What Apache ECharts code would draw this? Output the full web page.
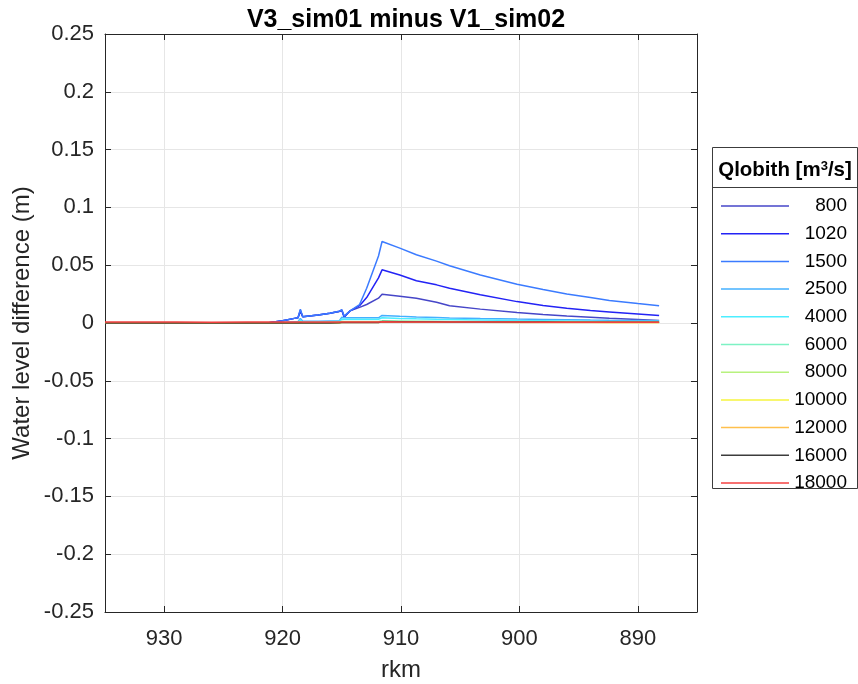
<!DOCTYPE html>
<html>
<head>
<meta charset="utf-8">
<script src="https://cdn.jsdelivr.net/npm/echarts@6/dist/echarts.min.js"></script>
<style>
    html, body { margin: 0; padding: 0; background: #fff; }
    #chart { width: 858px; height: 684px; }
</style>
</head>
<body>
<div id="chart"></div>
<script>
// river km positions (shared by every discharge)
const rkm = [935, 932, 929, 926, 923, 921.3, 920, 919, 918.7, 918.5, 918.3, 917, 916, 915.2, 915, 914.8, 914.3,
    913.5, 912.9, 911.9, 911.6, 910.1, 908.7, 907, 905.9, 903.3, 900.2, 898, 896, 894, 892.4, 890, 888.2];

const discharges = ['800', '1020', '1500', '2500', '4000', '6000', '8000', '10000', '12000', '16000', '18000'];
const colors = ['#4646c8', '#2323f5', '#3b7bff', '#45b0ff', '#4ceeff', '#7df2c4', '#b8f27e', '#f6f53e', '#ffc04d', '#3c3c3c', '#f44040'];

const q800 = [0, 0, 0.0002, -0.0002, 0, 0, 0.002, 0.004, 0.0045, 0.010, 0.0055, 0.007, 0.0085, 0.0100, 0.0110, 0.0055, 0.0105,
    0.0135, 0.0160, 0.0215, 0.0248, 0.0232, 0.0214, 0.0180, 0.0150, 0.0120, 0.0090, 0.0074, 0.0060, 0.0050, 0.0041, 0.0030, 0.0022];
const q1020 = [0, 0, 0.0002, -0.0002, 0, 0, 0.002, 0.004, 0.0045, 0.011, 0.0055, 0.007, 0.0085, 0.0101, 0.0112, 0.0050, 0.0105,
    0.0150, 0.0220, 0.0390, 0.0460, 0.0415, 0.0365, 0.0330, 0.0300, 0.0245, 0.0185, 0.0152, 0.0127, 0.0108, 0.0096, 0.0078, 0.0064];
const q1500 = [0, 0, 0.0002, -0.0002, 0, 0, 0.002, 0.004, 0.0045, 0.012, 0.0055, 0.007, 0.0085, 0.0102, 0.0115, 0.0060, 0.0105,
    0.0160, 0.0300, 0.0580, 0.0705, 0.0648, 0.0590, 0.0535, 0.0495, 0.0415, 0.0335, 0.0290, 0.0250, 0.0220, 0.0195, 0.0168, 0.0150];
const q2500 = [0, 0, 0.0001, -0.0003, 0, 0, 0.0005, 0.001, 0.0012, 0.004, 0.0015, 0.0015, 0.0018, 0.0020, 0.0050, 0.0045, 0.0045,
    0.0045, 0.0045, 0.0045, 0.0065, 0.0058, 0.0052, 0.0047, 0.0044, 0.0039, 0.0034, 0.0031, 0.0028, 0.0025, 0.0023, 0.0021, 0.0019];
const q4000 = [0, 0, 0.0001, -0.0002, 0, 0, 0.0003, 0.0006, 0.0008, 0.0025, 0.0010, 0.0010, 0.0012, 0.0014, 0.0035, 0.0032, 0.0032,
    0.0032, 0.0032, 0.0032, 0.0045, 0.0040, 0.0036, 0.0032, 0.0030, 0.0026, 0.0022, 0.0020, 0.0018, 0.0016, 0.0014, 0.0013, 0.0012];
const q6000 = [0, 0, 0, -0.0002, 0, 0, 0.0002, 0.0003, 0.0004, 0.0010, 0.0005, 0.0005, 0.0006, 0.0007, 0.0015, 0.0014, 0.0014,
    0.0014, 0.0014, 0.0014, 0.0020, 0.0018, 0.0016, 0.0015, 0.0014, 0.0012, 0.0011, 0.0010, 0.0009, 0.0008, 0.0008, 0.0007, 0.0007];
const q8000 = [0, 0, 0, -0.0001, 0, 0, 0.0001, 0.0002, 0.0002, 0.0006, 0.0003, 0.0003, 0.0004, 0.0004, 0.0010, 0.0010, 0.0010,
    0.0010, 0.0010, 0.0010, 0.0014, 0.0013, 0.0012, 0.0011, 0.0010, 0.0009, 0.0008, 0.0008, 0.0007, 0.0007, 0.0006, 0.0006, 0.0006];
const q10000 = [0, 0, 0, -0.0001, 0, 0, 0.0001, 0.0001, 0.0001, 0.0004, 0.0002, 0.0002, 0.0002, 0.0003, 0.0007, 0.0007, 0.0007,
    0.0007, 0.0007, 0.0007, 0.0010, 0.0009, 0.0009, 0.0008, 0.0008, 0.0007, 0.0007, 0.0006, 0.0006, 0.0006, 0.0005, 0.0005, 0.0005];
const q12000 = [0, 0, 0, -0.0001, 0, 0, 0, 0.0001, 0.0001, 0.0003, 0.0002, 0.0002, 0.0002, 0.0002, 0.0005, 0.0005, 0.0005,
    0.0005, 0.0005, 0.0005, 0.0008, 0.0007, 0.0007, 0.0006, 0.0006, 0.0006, 0.0005, 0.0005, 0.0005, 0.0005, 0.0004, 0.0004, 0.0004];
const q16000 = [0, 0, 0, -0.0001, 0, 0, 0, 0.0001, 0.0001, 0.0002, 0.0001, 0.0001, 0.0001, 0.0002, 0.0004, 0.0004, 0.0004,
    0.0004, 0.0004, 0.0005, 0.0012, 0.0011, 0.0010, 0.0010, 0.0009, 0.0009, 0.0008, 0.0008, 0.0007, 0.0007, 0.0007, 0.0006, 0.0006];
const q18000 = [0.0008, 0.0008, 0.0009, 0.0007, 0.0008, 0.0008, 0.0008, 0.0008, 0.0008, 0.0009, 0.0008, 0.0008, 0.0008, 0.0008, 0.0009, 0.0009, 0.0009,
    0.0009, 0.0009, 0.0009, 0.0010, 0.0009, 0.0009, 0.0009, 0.0008, 0.0008, 0.0008, 0.0007, 0.0007, 0.0007, 0.0006, 0.0006, 0.0006];

const values = [q800, q1020, q1500, q2500, q4000, q6000, q8000, q10000, q12000, q16000, q18000];

const FONT = 'Liberation Sans, Arial, sans-serif';
const INK = '#262626';

const chart = echarts.init(document.getElementById('chart'));

function makeSeries(name, i) {
    return {
        name: name,
        type: 'line',
        symbol: 'none',
        color: colors[i],
        lineStyle: { width: 1.5, color: colors[i] },
        data: rkm.map((x, k) => [x, values[i][k]])
    };
}

chart.setOption({
    animation: false,
    backgroundColor: '#fff',
    title: {
        text: 'V3_sim01 minus V1_sim02',
        left: 401,
        top: 3,
        textAlign: 'center',
        textStyle: { fontFamily: FONT, fontSize: 25, fontWeight: 'bold', color: '#000' }
    },
    grid: { left: 105, top: 34, width: 592, height: 578, show: false, outerBoundsMode: 'none', containLabel: false },
    xAxis: [{
        type: 'value',
        inverse: true,
        min: 885,
        max: 935,
        splitNumber: 5,
        name: 'rkm',
        nameLocation: 'middle',
        nameGap: 46,
        nameMoveOverlap: false,
        nameTextStyle: { fontFamily: FONT, fontSize: 24, color: INK },
        axisLine: { onZero: false, lineStyle: { color: INK, width: 1 } },
        axisTick: { inside: true, length: 6, lineStyle: { color: INK } },
        axisLabel: { fontFamily: FONT, fontSize: 22, color: INK, margin: 16, showMinLabel: false, showMaxLabel: false },
        splitLine: { show: true, lineStyle: { color: '#e6e6e6', width: 1 } }
    }, {
        type: 'value',
        position: 'top',
        inverse: true,
        min: 885,
        max: 935,
        splitNumber: 5,
        axisLine: { onZero: false, lineStyle: { color: INK, width: 1 } },
        axisTick: { inside: true, length: 6, lineStyle: { color: INK } },
        axisLabel: { show: false },
        splitLine: { show: false }
    }],
    yAxis: [{
        type: 'value',
        min: -0.25,
        max: 0.25,
        interval: 0.05,
        name: 'Water level difference (m)',
        nameLocation: 'middle',
        nameRotate: 90,
        nameGap: 71,
        nameMoveOverlap: false,
        nameTextStyle: { fontFamily: FONT, fontSize: 24, color: INK },
        axisLine: { show: true, onZero: false, lineStyle: { color: INK, width: 1 } },
        axisTick: { show: true, inside: true, length: 6, lineStyle: { color: INK } },
        axisLabel: { fontFamily: FONT, fontSize: 22, color: INK, margin: 11 },
        splitLine: { show: true, lineStyle: { color: '#e6e6e6', width: 1 } }
    }, {
        type: 'value',
        position: 'right',
        min: -0.25,
        max: 0.25,
        interval: 0.05,
        axisLine: { show: true, onZero: false, lineStyle: { color: INK, width: 1 } },
        axisTick: { show: true, inside: true, length: 6, lineStyle: { color: INK } },
        axisLabel: { show: false },
        splitLine: { show: false }
    }],
    legend: {
        orient: 'vertical',
        left: 721,
        top: 196.5,
        padding: 0,
        icon: 'rect',
        itemWidth: 68,
        itemHeight: 1.5,
        itemGap: 8.7,
        data: discharges,
        formatter: '{n|{name}}',
        lineStyle: { width: 1.2 },
        textStyle: {
            fontFamily: FONT,
            fontSize: 19,
            color: '#000',
            rich: { n: { width: 53, lineHeight: 19, align: 'right', fontFamily: FONT, fontSize: 19, color: '#000' } }
        }
    },
    graphic: [
        {
            type: 'rect',
            z: 1,
            shape: { x: 712.5, y: 147.5, width: 145, height: 341 },
            style: { fill: '#fff', stroke: '#3c3c3c', lineWidth: 1 }
        },
        {
            type: 'line',
            z: 2,
            shape: { x1: 712.5, y1: 187.5, x2: 857.5, y2: 187.5 },
            style: { stroke: '#3c3c3c', lineWidth: 1 }
        },
        {
            type: 'text',
            z: 2,
            x: 785,
            y: 170,
            style: {
                text: '{a|Qlobith [m}{s|3}{a|/s]}',
                align: 'center',
                verticalAlign: 'middle',
                rich: {
                    a: { fontFamily: FONT, fontSize: 20.5, fontWeight: 'bold', fill: '#000' },
                    s: { fontFamily: FONT, fontSize: 13, fontWeight: 'bold', fill: '#000', verticalAlign: 'top' }
                }
            }
        }
    ],
    series: discharges.map(makeSeries)
});
</script>
</body>
</html>
